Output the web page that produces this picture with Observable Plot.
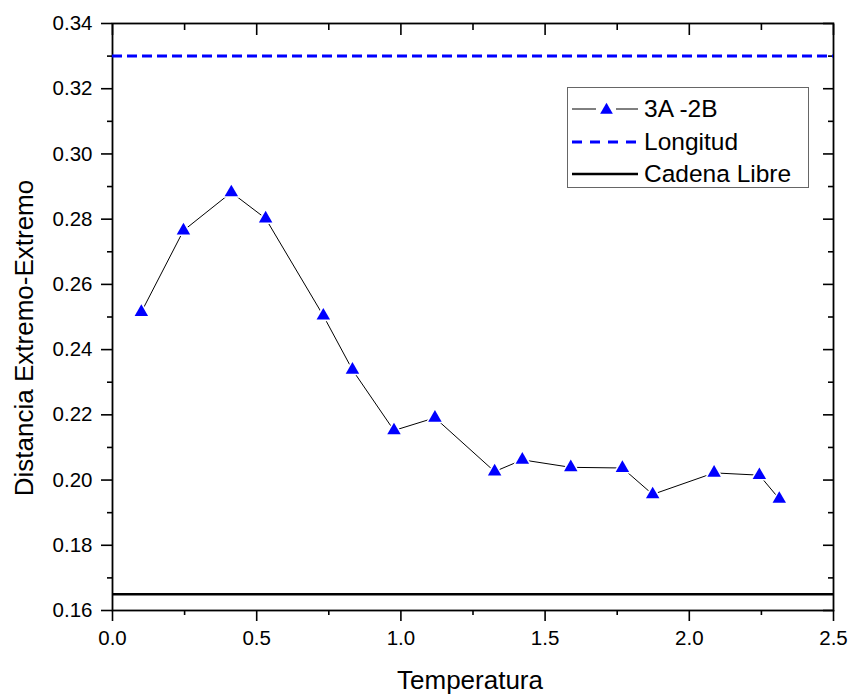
<!DOCTYPE html>
<html>
<head>
<meta charset="utf-8">
<script src="https://cdn.jsdelivr.net/npm/d3@7"></script>
<script src="https://cdn.jsdelivr.net/npm/@observablehq/plot@0.6"></script>
<style>
  html, body { margin: 0; padding: 0; background: #fff; }
  #wrap { position: relative; width: 849px; height: 695px; font-family: Arial, "Liberation Sans", sans-serif; }
  #legend { position: absolute; left: 567px; top: 87px; width: 242px; height: 101px; border: 1px solid #666; background: #fff; box-sizing: border-box; }
  .row { position: absolute; left: 4px; height: 30px; display: flex; align-items: center; }
  .row span { font-size: 24.5px; color: #000; margin-left: 6px; white-space: nowrap; }
</style>
</head>
<body>
<div id="wrap"></div>
<script>
// Data
const temperatura = [0.10, 0.246, 0.412, 0.531, 0.731, 0.832, 0.976, 1.118, 1.325, 1.421, 1.589, 1.768, 1.873, 2.086, 2.243, 2.312];
const distancia   = [0.2515, 0.2765, 0.2882, 0.2802, 0.2504, 0.2338, 0.2152, 0.2191, 0.2026, 0.2062, 0.2039, 0.2037, 0.1956, 0.2022, 0.2015, 0.1942];
const longitud = 0.33;
const cadenaLibre = 0.165;
const xTicks = [0, 0.5, 1.0, 1.5, 2.0, 2.5];
const xMinorTicks = [0.25, 0.75, 1.25, 1.75, 2.25];
const yTicks = [0.16, 0.18, 0.20, 0.22, 0.24, 0.26, 0.28, 0.30, 0.32, 0.34];
const yMinorTicks = [0.17, 0.19, 0.21, 0.23, 0.25, 0.27, 0.29, 0.31, 0.33];
const xTitle = "Temperatura";
const yTitle = "Distancia Extremo-Extremo";
const legendLabels = ["3A -2B", "Longitud", "Cadena Libre"];

const data = temperatura.map((t, i) => ({t, d: distancia[i]}));
const font = 'Arial, "Liberation Sans", sans-serif';

const plot = Plot.plot({
  width: 849,
  height: 695,
  marginLeft: 112,
  marginRight: 16,
  marginTop: 23,
  marginBottom: 85,
  style: {fontFamily: font, fontSize: "20.5px", color: "#000", background: "#fff"},
  x: {domain: [0, 2.5]},
  y: {domain: [0.16, 0.34]},
  marks: [
    // bottom & left axes (outward)
    Plot.axisX({ticks: xTicks, tickSize: 11, tickPadding: 9, tickFormat: d3.format(".1f"), fontSize: 20.5,
      label: null, strokeWidth: 1.6}),
    Plot.axisX({ticks: xMinorTicks, tickSize: 5, text: null, label: null, strokeWidth: 1.6}),
    Plot.axisY({ticks: yTicks, tickSize: 11, tickPadding: 9, tickFormat: d3.format(".2f"), fontSize: 20.5,
      label: null, strokeWidth: 1.6}),
    Plot.axisY({ticks: yMinorTicks, tickSize: 5, text: null, label: null, strokeWidth: 1.6}),
    // top & right axes (inward)
    Plot.axisX({anchor: "top", ticks: xTicks, tickSize: -11, text: null, label: null, strokeWidth: 1.6}),
    Plot.axisX({anchor: "top", ticks: xMinorTicks, tickSize: -6, text: null, label: null, strokeWidth: 1.6}),
    Plot.axisY({anchor: "right", ticks: yTicks, tickSize: -11, text: null, label: null, strokeWidth: 1.6}),
    Plot.axisY({anchor: "right", ticks: yMinorTicks, tickSize: -6, text: null, label: null, strokeWidth: 1.6}),
    // axis titles
    Plot.text([xTitle], {frameAnchor: "bottom", text: d => d, textAnchor: "middle", lineAnchor: "middle", dy: 70, dx: -3, fontSize: 26, fill: "#000"}),
    Plot.text([yTitle], {frameAnchor: "left", text: d => d, textAnchor: "middle", rotate: -90, lineAnchor: "middle", dx: -88, dy: 21, fontSize: 26, fill: "#000"}),
    Plot.frame({stroke: "#000", strokeWidth: 1.8}),
    Plot.ruleY([longitud], {stroke: "#0000ff", strokeWidth: 3, strokeDasharray: "10,5"}),
    Plot.ruleY([cadenaLibre], {stroke: "#000", strokeWidth: 2.6}),
    Plot.line(data, {x: "t", y: "d", stroke: "#000", strokeWidth: 1}),
    Plot.dot(data, {x: "t", y: "d", symbol: "triangle", r: 7, fill: "#fff", stroke: "none"}),
    Plot.dot(data, {x: "t", y: "d", symbol: "triangle", r: 5, fill: "#0000ff", stroke: "none"})
  ]
});

const wrap = document.getElementById("wrap");
wrap.appendChild(plot);

// Legend overlay
const legend = document.createElement("div");
legend.id = "legend";
const samples = [
  `<svg width="66" height="30"><line x1="0" y1="15" x2="24" y2="15" stroke="#000" stroke-width="1"/><line x1="44" y1="15" x2="66" y2="15" stroke="#000" stroke-width="1"/><path d="${d3.symbol(d3.symbolTriangle, 70)()}" transform="translate(34.5,16)" fill="#0000ff"/></svg>`,
  `<svg width="66" height="30"><line x1="0" y1="15" x2="66" y2="15" stroke="#0000ff" stroke-width="3" stroke-dasharray="10,8"/></svg>`,
  `<svg width="66" height="30"><line x1="0" y1="15" x2="66" y2="15" stroke="#000" stroke-width="2.6"/></svg>`
];
legendLabels.forEach((lab, i) => {
  const row = document.createElement("div");
  row.className = "row";
  row.style.top = (6 + i * 32.5) + "px";
  row.innerHTML = samples[i] + `<span>${lab}</span>`;
  legend.appendChild(row);
});
wrap.appendChild(legend);
</script>
</body>
</html>
